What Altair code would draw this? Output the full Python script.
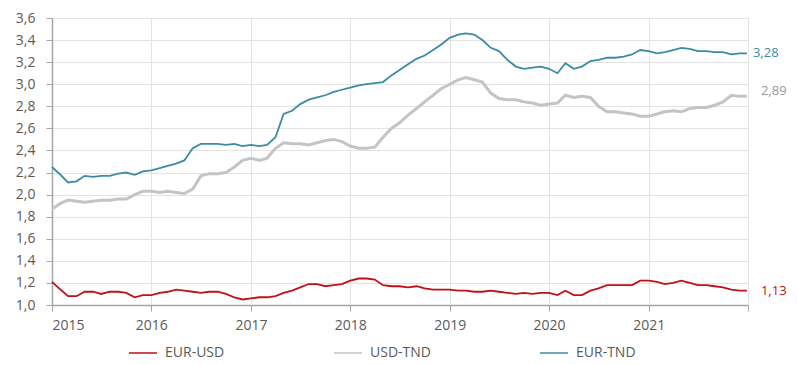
import altair as alt
import pandas as pd

series_names = ["EUR-USD", "USD-TND", "EUR-TND"]
series_colors = ["#c0101a", "#c4c4c4", "#3b8ca3"]

dates = pd.date_range("2015-01-01", periods=84, freq="MS").strftime("%Y-%m-%d").tolist() + ["2021-12-28"]

eur_usd = [
    1.21, 1.14, 1.08, 1.08, 1.12, 1.12, 1.10, 1.12, 1.12, 1.11, 1.07, 1.09,
    1.09, 1.11, 1.12, 1.14, 1.13, 1.12, 1.11, 1.12, 1.12, 1.10, 1.07, 1.05,
    1.06, 1.07, 1.07, 1.08, 1.11, 1.13, 1.16, 1.19, 1.19, 1.17, 1.18, 1.19,
    1.22, 1.24, 1.24, 1.23, 1.18, 1.17, 1.17, 1.16, 1.17, 1.15, 1.14, 1.14,
    1.14, 1.13, 1.13, 1.12, 1.12, 1.13, 1.12, 1.11, 1.10, 1.11, 1.10, 1.11,
    1.11, 1.09, 1.13, 1.09, 1.09, 1.13, 1.15, 1.18, 1.18, 1.18, 1.18, 1.22,
    1.22, 1.21, 1.19, 1.20, 1.22, 1.20, 1.18, 1.18, 1.17, 1.16, 1.14, 1.13,
    1.13,
]

usd_tnd = [
    1.87, 1.92, 1.95, 1.94, 1.93, 1.94, 1.95, 1.95, 1.96, 1.96, 2.00, 2.03,
    2.03, 2.02, 2.03, 2.02, 2.01, 2.05, 2.17, 2.19, 2.19, 2.20, 2.25, 2.31,
    2.33, 2.31, 2.33, 2.42, 2.47, 2.46, 2.46, 2.45, 2.47, 2.49, 2.50, 2.48,
    2.44, 2.42, 2.42, 2.43, 2.52, 2.60, 2.65, 2.72, 2.78, 2.84, 2.90, 2.96,
    3.00, 3.04, 3.06, 3.04, 3.02, 2.92, 2.87, 2.86, 2.86, 2.84, 2.83, 2.81,
    2.82, 2.83, 2.90, 2.88, 2.89, 2.88, 2.80, 2.75, 2.75, 2.74, 2.73, 2.71,
    2.71, 2.73, 2.75, 2.76, 2.75, 2.78, 2.79, 2.79, 2.81, 2.84, 2.90, 2.89,
    2.89,
]

eur_tnd = [
    2.25, 2.18, 2.11, 2.12, 2.17, 2.16, 2.17, 2.17, 2.19, 2.20, 2.18, 2.21,
    2.22, 2.24, 2.26, 2.28, 2.31, 2.42, 2.46, 2.46, 2.46, 2.45, 2.46, 2.44,
    2.45, 2.44, 2.45, 2.52, 2.73, 2.76, 2.82, 2.86, 2.88, 2.90, 2.93, 2.95,
    2.97, 2.99, 3.00, 3.01, 3.02, 3.08, 3.13, 3.18, 3.23, 3.26, 3.31, 3.36,
    3.42, 3.45, 3.46, 3.45, 3.40, 3.33, 3.30, 3.22, 3.16, 3.14, 3.15, 3.16,
    3.14, 3.10, 3.19, 3.14, 3.16, 3.21, 3.22, 3.24, 3.24, 3.25, 3.27, 3.31,
    3.30, 3.28, 3.29, 3.31, 3.33, 3.32, 3.30, 3.30, 3.29, 3.29, 3.27, 3.28,
    3.28,
]

end_labels = ["1,13", "2,89", "3,28"]
year_ticks = [2015, 2016, 2017, 2018, 2019, 2020, 2021, 2022]
y_ticks = [1.0, 1.2, 1.4, 1.6, 1.8, 2.0, 2.2, 2.4, 2.6, 2.8, 3.0, 3.2, 3.4, 3.6]

rows = []
for name, vals in zip(series_names, [eur_usd, usd_tnd, eur_tnd]):
    for d, v in zip(dates, vals):
        rows.append({"date": d, "value": v, "series": name})
df = pd.DataFrame(rows)

last = pd.DataFrame({
    "date": [dates[-1]] * 3,
    "value": [eur_usd[-1], usd_tnd[-1], eur_tnd[-1]],
    "series": series_names,
    "label": end_labels,
})

FONT = "Open Sans"

x_enc = alt.X(
    "date:T",
    scale=alt.Scale(type="utc",
                    domain=[alt.DateTime(year=2015, month=1, date=1, utc=True),
                            alt.DateTime(year=2022, month=1, date=1, utc=True)]),
    axis=alt.Axis(
        title=None,
        values=[alt.DateTime(year=y, month=1, date=1, utc=True) for y in year_ticks],
        tickCount=30,
        labelExpr="utcFormat(datum.value, '%Y') == '2022' ? '' : utcFormat(datum.value, '%Y')",
        tickSize=6,
        labelPadding=7,
    ),
)
y_enc = alt.Y(
    "value:Q",
    scale=alt.Scale(domain=[1.0, 3.6], nice=False, zero=False),
    axis=alt.Axis(
        title=None,
        values=y_ticks,
        tickCount=30,
        labelOverlap=False,
        labelExpr="replace(format(datum.value, '.1f'), '.', ',')",
        tickSize=6,
        labelPadding=11,
    ),
)
color_enc = alt.Color("series:N", scale=alt.Scale(domain=series_names, range=series_colors),
                      legend=alt.Legend(title=None))

gray_line = alt.Chart(df).transform_filter(alt.datum.series == "USD-TND").mark_line(
    strokeWidth=3
).encode(x=x_enc, y=y_enc, color=color_enc)

other_lines = alt.Chart(df).transform_filter(alt.datum.series != "USD-TND").mark_line(
    strokeWidth=1.8
).encode(x=x_enc, y=y_enc, color=color_enc, detail="series:N")


def end_text(name, color, dx, dy):
    return alt.Chart(last).transform_filter(alt.datum.series == name).mark_text(
        align="left", baseline="middle", dx=dx, dy=dy, fontSize=13, font=FONT, color=color
    ).encode(
        x=alt.X("date:T"),
        y=alt.Y("value:Q"),
        text="label:N",
    )


t_red = end_text("EUR-USD", series_colors[0], 14, 0)
t_gray = end_text("USD-TND", "#9a9a9a", 14, -5)
t_teal = end_text("EUR-TND", series_colors[2], 6, 0)

chart = alt.layer(gray_line, other_lines, t_red, t_gray, t_teal).properties(
    width=696,
    height=287,
    autosize=alt.AutoSizeParams(type="none"),
    padding={"left": 44, "top": 10, "right": 41, "bottom": 57},
).configure_view(stroke=None).configure_axis(
    labelFont=FONT,
    labelFontSize=14,
    labelColor="#5a5a5a",
    gridColor="#e3e3e3",
    gridWidth=1,
    domainColor="#a6a6a6",
    domainWidth=1.5,
    tickColor="#a6a6a6",
).configure_legend(
    orient="none",
    legendX=76,
    legendY=320,
    direction="horizontal",
    symbolType="stroke",
    symbolSize=784,
    symbolStrokeWidth=1.5,
    labelFont=FONT,
    labelFontSize=14,
    labelColor="#5a5a5a",
    labelLimit=300,
    columnPadding=106,
    symbolOffset=0,
    labelOffset=7,
)

chart.save("out.html", embed_options={"renderer": "svg", "actions": False})
